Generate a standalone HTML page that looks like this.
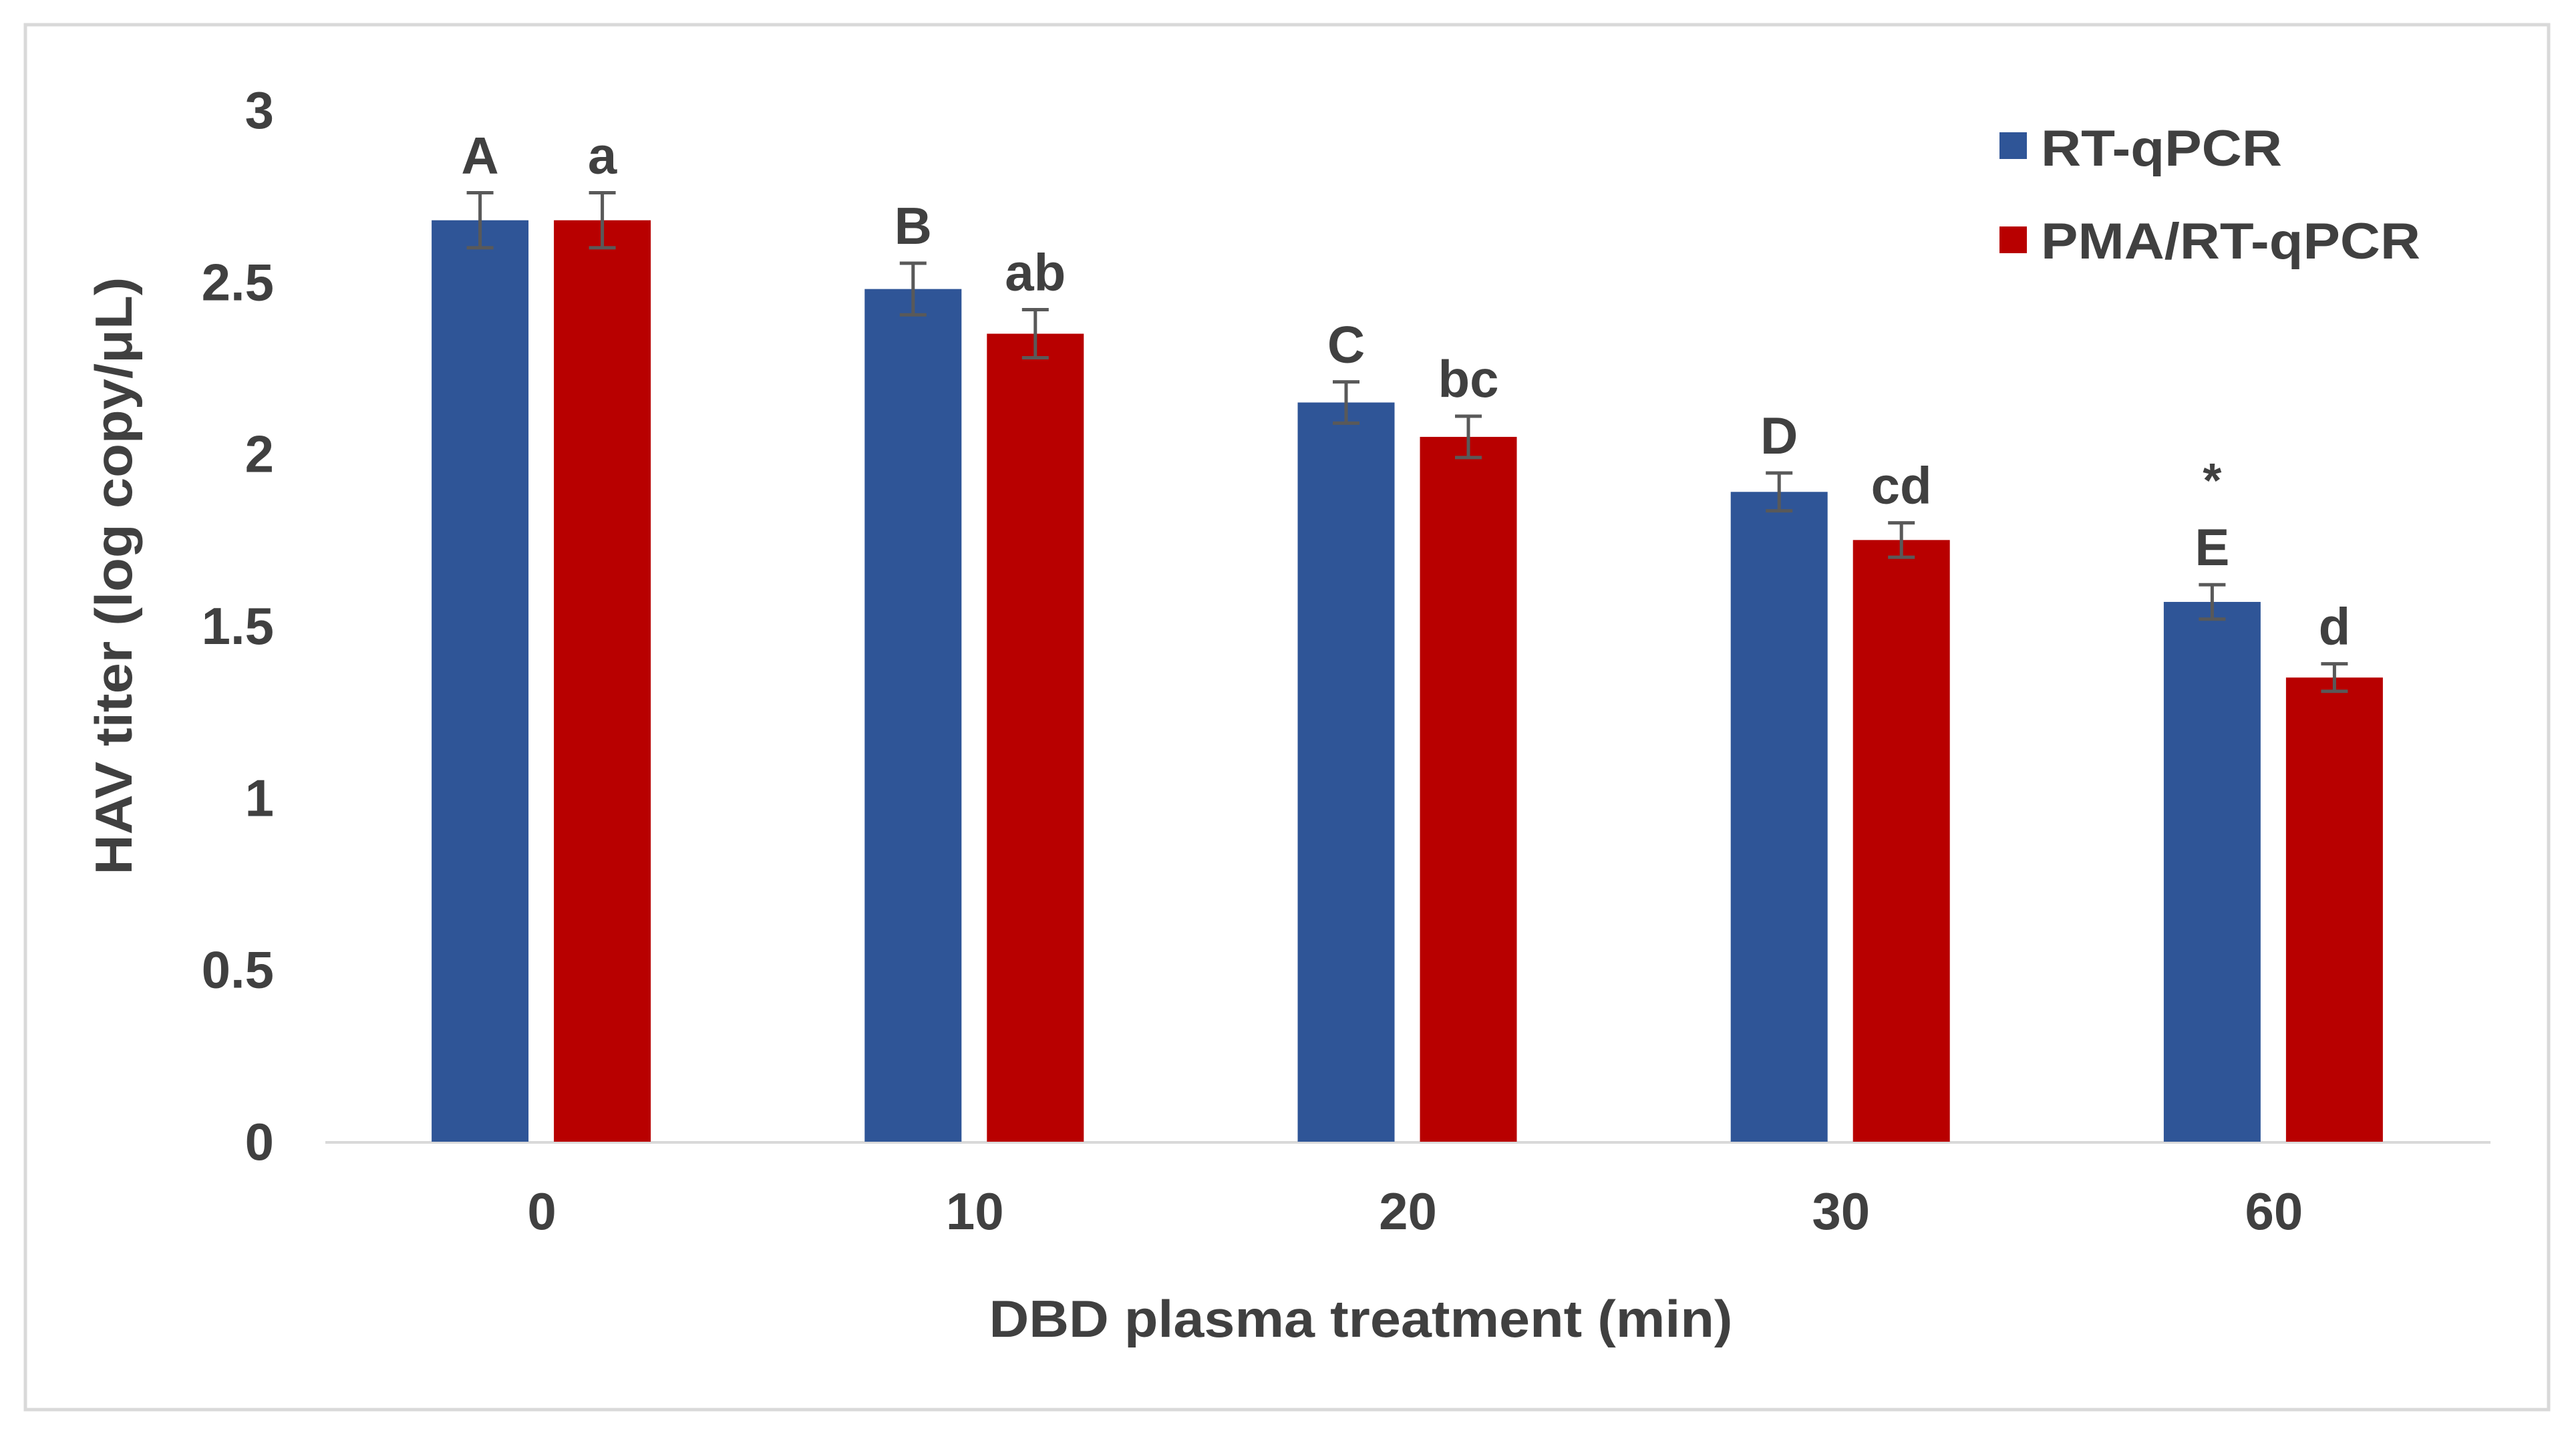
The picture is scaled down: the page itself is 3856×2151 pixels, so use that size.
<!DOCTYPE html>
<html><head><meta charset="utf-8"><style>
html,body{margin:0;padding:0;background:#fff}
svg{display:block}
text{font-family:"Liberation Sans",Arial,sans-serif;font-weight:bold;fill:#404040}
</style></head><body>
<svg id="chart" width="3856" height="2151" viewBox="0 0 3856 2151" xmlns="http://www.w3.org/2000/svg">
<rect x="38" y="37" width="3777" height="2073" fill="#fff" stroke="#d9d9d9" stroke-width="5"/>
<g id="grid"></g>
<g id="bars"></g>
<text transform="translate(197,862) rotate(-90)" text-anchor="middle" font-size="78" textLength="895" lengthAdjust="spacingAndGlyphs">HAV titer (log copy/μL)</text>
<text x="2037" y="2001" text-anchor="middle" font-size="78" textLength="1113" lengthAdjust="spacingAndGlyphs">DBD plasma treatment (min)</text>
<g>
<rect x="2993" y="198" width="41" height="40" fill="#2F5597"/>
<text x="3055" y="248" font-size="76" textLength="361" lengthAdjust="spacingAndGlyphs">RT-qPCR</text>
<rect x="2993" y="339" width="41" height="40" fill="#B80000"/>
<text x="3055" y="387" font-size="76" textLength="568" lengthAdjust="spacingAndGlyphs">PMA/RT-qPCR</text>
</g>
</svg>
<script>
const categories = ["0","10","20","30","60"];
const rtValues = [2.68, 2.48, 2.15, 1.89, 1.57];
const pmaValues = [2.68, 2.35, 2.05, 1.75, 1.35];
const rtErrors = [0.08, 0.075, 0.06, 0.055, 0.05];
const pmaErrors = [0.08, 0.07, 0.06, 0.05, 0.04];
const rtLetters = ["A","B","C","D","E"];
const pmaLetters = ["a","ab","bc","cd","d"];
const rtMarks = ["","","","","*"];
const yTicks = [0, 0.5, 1, 1.5, 2, 2.5, 3];

const NS = "http://www.w3.org/2000/svg";
const x0 = 487, x1 = 3728, yBase = 1709, yTop = 165, yMax = 3;
const y = v => yBase - (v / yMax) * (yBase - yTop);
const band = (x1 - x0) / categories.length;
const cx = i => x0 + band * (i + 0.5);
const bw = 145;
function mk(tag, attrs, parent) {
  const e = document.createElementNS(NS, tag);
  for (const k in attrs) e.setAttribute(k, attrs[k]);
  parent.appendChild(e);
  return e;
}
const g = document.getElementById("bars");
const grid = document.getElementById("grid");
yTicks.forEach(t => {
  const tx = mk("text", {x: 410, y: y(t) + 27, "text-anchor": "end", "font-size": 78}, grid);
  tx.textContent = t;
  
  
});
const axis = mk("line", {x1: x0, x2: x1, y1: yBase + 1, y2: yBase + 1, stroke: "#d9d9d9", "stroke-width": 4}, grid);


categories.forEach((c, i) => {
  const tx = mk("text", {x: cx(i), y: 1840, "text-anchor": "middle", "font-size": 78}, grid);
  tx.textContent = c;
  
  
  const series = [
    {v: rtValues[i], e: rtErrors[i], l: rtLetters[i], m: rtMarks[i], x: cx(i) - 20 - bw, col: "#2F5597", n: "rt"},
    {v: pmaValues[i], e: pmaErrors[i], l: pmaLetters[i], m: "", x: cx(i) + 18, col: "#B80000", n: "pma"}
  ];
  series.forEach(s => {
    const r = mk("rect", {x: s.x, y: y(s.v), width: bw, height: yBase - y(s.v), fill: s.col}, g);
    
    
    const mx = s.x + bw / 2, top = y(s.v + s.e), bot = y(s.v - s.e);
    const eb = mk("path", {d: `M${mx-20},${top}H${mx+20}M${mx},${top}V${bot}M${mx-20},${bot}H${mx+20}`, stroke: "#595959", "stroke-width": 5, fill: "none"}, g);
    
    
    const lt = mk("text", {x: mx, y: top - 29, "text-anchor": "middle", "font-size": 78}, g);
    lt.textContent = s.l;
    
    
    if (s.m) {
      const st = mk("text", {x: mx, y: top - 131, "text-anchor": "middle", "font-size": 72}, g);
      st.textContent = s.m;
      
      
    }
  });
});
</script>
</body></html>
